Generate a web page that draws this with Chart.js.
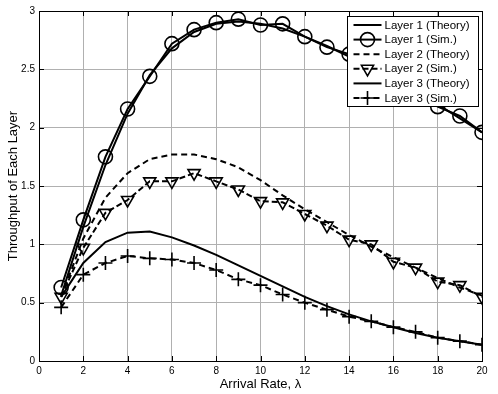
<!DOCTYPE html>
<html lang="en">
<head>
    <meta charset="UTF-8">
    <title>Throughput of Each Layer</title>
    <script src="https://cdn.jsdelivr.net/npm/chart.js"></script>
    <style>
        body { margin: 0; background: #ffffff; }
        #chart { display: block; }
    </style>
</head>
<body>
<canvas id="chart" width="498" height="394"></canvas>
<script>
    // Values
    const arrivalRates = [1, 2, 3, 4, 5, 6, 7, 8, 9, 10, 11, 12, 13, 14, 15, 16, 17, 18, 19, 20];
    const layer1Theory = [0.56, 1.15, 1.68, 2.12, 2.45, 2.68, 2.82, 2.89, 2.91, 2.89, 2.85, 2.78, 2.70, 2.61, 2.52, 2.42, 2.31, 2.20, 2.08, 1.96];
    const layer1Sim    = [0.63, 1.21, 1.75, 2.16, 2.44, 2.72, 2.84, 2.90, 2.93, 2.88, 2.89, 2.78, 2.69, 2.63, 2.51, 2.41, 2.30, 2.18, 2.10, 1.96];
    const layer2Theory = [0.55, 1.05, 1.40, 1.61, 1.73, 1.77, 1.77, 1.73, 1.66, 1.55, 1.42, 1.30, 1.19, 1.08, 0.98, 0.89, 0.80, 0.71, 0.63, 0.56];
    const layer2Sim    = [0.55, 0.97, 1.27, 1.38, 1.54, 1.54, 1.61, 1.54, 1.47, 1.37, 1.36, 1.26, 1.16, 1.04, 1.00, 0.85, 0.80, 0.68, 0.65, 0.55];
    const layer3Theory = [0.55, 0.84, 1.02, 1.10, 1.11, 1.06, 0.99, 0.91, 0.82, 0.73, 0.64, 0.55, 0.47, 0.40, 0.34, 0.29, 0.24, 0.20, 0.17, 0.14];
    const layer3Sim    = [0.46, 0.74, 0.84, 0.90, 0.88, 0.87, 0.84, 0.78, 0.70, 0.65, 0.57, 0.50, 0.44, 0.38, 0.34, 0.29, 0.25, 0.20, 0.17, 0.14];

    const xTicks = [0, 2, 4, 6, 8, 10, 12, 14, 16, 18, 20];
    const yTicks = [0, 0.5, 1, 1.5, 2, 2.5, 3];

    const FONT = '"Liberation Sans", Arial, sans-serif';

    function toPoints(values) {
        return values.map((v, i) => ({ x: arrivalRates[i], y: v }));
    }

    function series(label, values, dash, pointStyle, rotation) {
        return {
            label: label,
            data: toPoints(values),
            borderColor: '#000000',
            backgroundColor: 'rgba(0,0,0,0)',
            borderWidth: 2,
            borderDash: dash,
            tension: 0,
            pointStyle: pointStyle || false,
            pointRadius: pointStyle ? 7 : 0,
            pointRotation: rotation || 0,
            pointBorderWidth: 1.6,
            pointBorderColor: '#000000',
            pointBackgroundColor: 'rgba(0,0,0,0)'
        };
    }

    const datasets = [
        series('Layer 1 (Theory)', layer1Theory, []),
        series('Layer 1 (Sim.)', layer1Sim, [], 'circle'),
        series('Layer 2 (Theory)', layer2Theory, [6, 4]),
        series('Layer 2 (Sim.)', layer2Sim, [6, 3], 'triangle', 180),
        series('Layer 3 (Theory)', layer3Theory, []),
        series('Layer 3 (Sim.)', layer3Sim, [6, 4], 'cross')
    ];

    // Box, inward ticks and the legend in the MATLAB manner
    const matlabFrame = {
        id: 'matlabFrame',
        afterDraw(chart) {
            const ctx = chart.ctx;
            const area = chart.chartArea;
            const xs = chart.scales.x;
            const ys = chart.scales.y;
            ctx.save();
            ctx.strokeStyle = '#000000';
            ctx.lineWidth = 1;
            ctx.setLineDash([]);
            ctx.beginPath();
            xTicks.forEach(t => {
                const px = Math.round(xs.getPixelForValue(t)) + 0.5;
                ctx.moveTo(px, area.bottom); ctx.lineTo(px, area.bottom - 5);
                ctx.moveTo(px, area.top); ctx.lineTo(px, area.top + 5);
            });
            yTicks.forEach(t => {
                const py = Math.round(ys.getPixelForValue(t)) + 0.5;
                ctx.moveTo(area.left, py); ctx.lineTo(area.left + 5, py);
                ctx.moveTo(area.right, py); ctx.lineTo(area.right - 5, py);
            });
            ctx.stroke();
            ctx.strokeRect(Math.round(area.left) + 0.5, Math.round(area.top) + 0.5,
                Math.round(area.right - area.left), Math.round(area.bottom - area.top));

            // legend
            const lx = 347.5, ly = 16.5, lw = 131, lh = 90, rowH = 14.6;
            ctx.fillStyle = '#ffffff';
            ctx.fillRect(lx, ly, lw, lh);
            ctx.strokeRect(lx, ly, lw, lh);
            ctx.font = '11.5px ' + FONT;
            ctx.textBaseline = 'middle';
            datasets.forEach((ds, i) => {
                const y = ly + 8.5 + i * rowH;
                const x0 = lx + 6, x1 = lx + 34;
                ctx.strokeStyle = '#000000';
                ctx.lineWidth = 2;
                ctx.setLineDash(ds.borderDash);
                ctx.beginPath();
                ctx.moveTo(x0, y); ctx.lineTo(x1, y);
                ctx.stroke();
                ctx.setLineDash([]);
                if (ds.pointStyle) {
                    ctx.lineWidth = 1.6;
                    ctx.fillStyle = 'rgba(0,0,0,0)';
                    Chart.helpers.drawPoint(ctx, {
                        pointStyle: ds.pointStyle,
                        rotation: ds.pointRotation,
                        radius: 7,
                        borderWidth: 1.6
                    }, (x0 + x1) / 2, y);
                }
                ctx.fillStyle = '#000000';
                ctx.fillText(ds.label, lx + 37, y + 0.5);
            });
            ctx.restore();
        }
    };

    Chart.defaults.font.family = FONT;
    Chart.defaults.color = '#000000';

    new Chart(document.getElementById('chart'), {
        type: 'line',
        data: { datasets: datasets },
        options: {
            responsive: false,
            animation: false,
            layout: { padding: { top: 11, right: 16, left: 0, bottom: 0 } },
            plugins: { legend: { display: false }, tooltip: { enabled: false } },
            scales: {
                x: {
                    type: 'linear',
                    min: 0, max: 20,
                    afterFit: s => { s.height = 33; },
                    afterBuildTicks: s => { s.ticks = xTicks.map(v => ({ value: v })); },
                    grid: { color: '#b0b0b0', borderDash: [1, 3], drawTicks: false },
                    border: { color: '#000000', width: 1 },
                    ticks: { padding: 4, font: { size: 10 }, maxRotation: 0, callback: v => String(v) },
                    title: { display: true, text: 'Arrival Rate, λ', font: { size: 13 }, padding: { top: 0, bottom: 2 } }
                },
                y: {
                    min: 0, max: 3,
                    afterFit: s => { s.width = 39; },
                    afterBuildTicks: s => { s.ticks = yTicks.map(v => ({ value: v })); },
                    grid: { color: '#b0b0b0', borderDash: [1, 3], drawTicks: false },
                    border: { color: '#000000', width: 1 },
                    ticks: { padding: 4, font: { size: 10 }, callback: v => String(v) },
                    title: { display: true, text: 'Throughput of Each Layer', font: { size: 13 }, padding: { top: 6, bottom: 0 } }
                }
            }
        },
        plugins: [matlabFrame]
    });
</script>
</body>
</html>
